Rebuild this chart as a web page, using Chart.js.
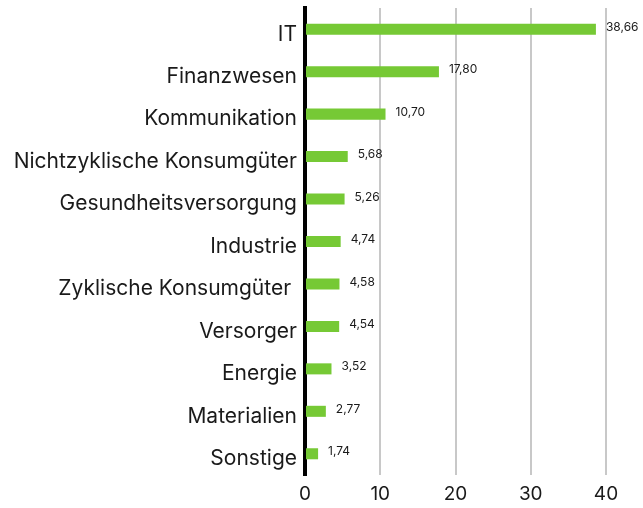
<!DOCTYPE html>
<html>
<head>
    <meta charset="utf-8">
    <script src="https://cdn.jsdelivr.net/npm/chart.js"></script>
    <style>
        html, body { margin: 0; padding: 0; background: #fff; }
        .chart-container { position: relative; width: 643px; height: 508px; }
    </style>
</head>
<body>
    <div class="chart-container">
        <canvas id="myChart"></canvas>
    </div>
    <script>
        // Sektoren und Gewichtungen (%)
        const sectors = ['IT', 'Finanzwesen', 'Kommunikation', 'Nichtzyklische Konsumgüter',
            'Gesundheitsversorgung', 'Industrie', 'Zyklische Konsumgüter ', 'Versorger',
            'Energie', 'Materialien', 'Sonstige'];
        const weights = [38.66, 17.80, 10.70, 5.68, 5.26, 4.74, 4.58, 4.54, 3.52, 2.77, 1.74];
        const xTicks = [0, 10, 20, 30, 40];

        const fontFamily = 'Inter, "Noto Sans", sans-serif';
        const textColor = '#1a1a1a';

        // Werte neben die Balken schreiben
        const valueLabels = {
            id: 'valueLabels',
            afterDatasetsDraw(chart) {
                const ctx = chart.ctx;
                const meta = chart.getDatasetMeta(0);
                ctx.save();
                ctx.font = '12px ' + fontFamily;
                ctx.fillStyle = textColor;
                ctx.textAlign = 'left';
                ctx.textBaseline = 'middle';
                meta.data.forEach((bar, i) => {
                    const txt = weights[i].toFixed(2).replace('.', ',');
                    ctx.fillText(txt, bar.x + 10, bar.y - 2);
                });
                ctx.restore();
            }
        };

        const ctx = document.getElementById('myChart').getContext('2d');
        new Chart(ctx, {
            type: 'bar',
            data: {
                labels: sectors,
                datasets: [{
                    data: weights,
                    backgroundColor: '#76c935',
                    barPercentage: 0.26,
                    categoryPercentage: 1
                }]
            },
            options: {
                indexAxis: 'y',
                responsive: true,
                maintainAspectRatio: false,
                animation: false,
                layout: { padding: { top: 8, right: 37, bottom: 0, left: 0 } },
                plugins: {
                    legend: { display: false },
                    tooltip: { enabled: false }
                },
                scales: {
                    x: {
                        min: 0,
                        max: 40,
                        afterBuildTicks(scale) {
                            scale.ticks = xTicks.map(v => ({ value: v }));
                        },
                        afterFit(scale) { scale.height = 33; },
                        grid: { color: '#c8c8c8', lineWidth: 2, drawTicks: false },
                        border: { display: false },
                        ticks: {
                            color: textColor,
                            padding: 8,
                            font: { family: fontFamily, size: 19 }
                        }
                    },
                    y: {
                        afterFit(scale) {
                            scale.width = 305;
                            scale.paddingTop = 0;
                            scale.paddingBottom = 0;
                        },
                        grid: { display: false },
                        border: { display: true, color: '#000', width: 4 },
                        ticks: {
                            color: textColor,
                            padding: 0,
                            labelOffset: 5,
                            font: { family: fontFamily, size: 21 }
                        }
                    }
                }
            },
            plugins: [valueLabels]
        });
    </script>
</body>
</html>
